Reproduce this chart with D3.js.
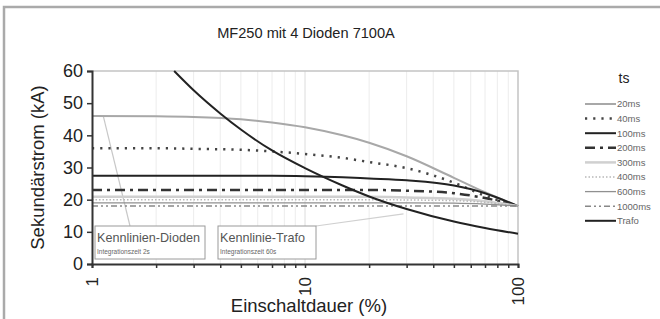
<!DOCTYPE html>
<html>
<head>
<meta charset="utf-8">
<script src="https://cdn.jsdelivr.net/npm/d3@7"></script>
<style>
  body { margin: 0; background: #fff; }
  text { font-family: "Liberation Sans", Arial, sans-serif; }
</style>
</head>
<body>
<div id="chart"></div>
<script>
// Einschaltdauer (%) sample points
const dutyCycle = [1, 2, 3, 5, 7, 10, 15, 20, 30, 50, 70, 100];
const ms20 = [46, 45.9, 45.7, 45, 44, 42.5, 40, 37.7, 33.5, 26.8, 22.3, 18];
const ms40 = [36, 36, 35.8, 35.5, 35, 34.2, 33, 31.7, 29.8, 25.3, 21.2, 18];
const ms100 = [27.4, 27.4, 27.4, 27.4, 27.4, 27.3, 27, 26.6, 26, 24.4, 22, 18];
const ms200 = [23, 23, 23, 23, 23, 23, 23, 23, 22.8, 22, 20.5, 18];
const ms300 = [20.9, 20.9, 20.9, 20.9, 20.9, 20.9, 20.9, 20.9, 20.7, 20.3, 19.5, 18];
const ms400 = [20, 20, 20, 20, 20, 20, 20, 20, 19.9, 19.7, 19.2, 18];
const ms600 = [19, 19, 19, 19, 19, 19, 19, 19, 19, 18.9, 18.6, 18];
const ms1000 = [18, 18, 18, 18, 18, 18, 18, 18, 18, 18, 18, 18];
const trafoDuty = [2.43, 3, 4, 5, 7, 10, 15, 20, 30, 50, 70, 100];
const trafo = [60, 54, 46.8, 41.8, 35.3, 29.8, 24.4, 21, 17.1, 13.2, 11.2, 9.4];

const yTicks = [0, 10, 20, 30, 40, 50, 60];
const xLabels = [1, 10, 100];

const series = [
  { name: "20ms", x: dutyCycle, y: ms20, color: "#a8a8a8", width: 2, dash: null },
  { name: "40ms", x: dutyCycle, y: ms40, color: "#444", width: 2.5, dash: "2.2,6" },
  { name: "100ms", x: dutyCycle, y: ms100, color: "#222", width: 2, dash: null },
  { name: "200ms", x: dutyCycle, y: ms200, color: "#333", width: 2.5, dash: "10,5,3,5" },
  { name: "300ms", x: dutyCycle, y: ms300, color: "#d0d0d0", width: 2.5, dash: null },
  { name: "400ms", x: dutyCycle, y: ms400, color: "#b8b8b8", width: 1.5, dash: "1.5,2" },
  { name: "600ms", x: dutyCycle, y: ms600, color: "#909090", width: 1.3, dash: null },
  { name: "1000ms", x: dutyCycle, y: ms1000, color: "#888", width: 1.5, dash: "6,3,2,3,2,3" },
  { name: "Trafo", x: trafoDuty, y: trafo, color: "#222", width: 2, dash: null }
];

const width = 660, height = 319;
const margin = { left: 92, right: 142, top: 71, bottom: 55 };

const svg = d3.select("#chart").append("svg")
  .attr("width", width).attr("height", height);

// outer frame
svg.append("rect")
  .attr("x", 4).attr("y", 7).attr("width", 700).attr("height", 400)
  .attr("fill", "none").attr("stroke", "#aaa").attr("stroke-width", 2.5);

svg.append("text")
  .attr("x", 306).attr("y", 38)
  .attr("text-anchor", "middle")
  .attr("font-size", 14.6).attr("fill", "#222")
  .text("MF250 mit 4 Dioden 7100A");

const x = d3.scaleLog().domain([1, 100]).range([margin.left, width - margin.right]);
const y = d3.scaleLinear().domain([0, 60]).range([height - margin.bottom, margin.top]);

// vertical grid
const gridTicks = x.ticks().filter(d => d > 1 && d < 100);
svg.append("g").selectAll("line").data(gridTicks).join("line")
  .attr("x1", d => x(d)).attr("x2", d => x(d))
  .attr("y1", y(60)).attr("y2", y(0))
  .attr("stroke", d => d === 10 ? "#dcdcdc" : "#ececec")
  .attr("stroke-width", 1);

// plot frame top and right
svg.append("path")
  .attr("d", `M${x(1)},${y(60)}H${x(100)}V${y(0)}`)
  .attr("fill", "none").attr("stroke", "#c4c4c4").attr("stroke-width", 1.5);

// leader lines of annotations
svg.append("line")
  .attr("x1", x(1.13)).attr("y1", y(ms20[0]))
  .attr("x2", 130).attr("y2", 226)
  .attr("stroke", "#c8c8c8").attr("stroke-width", 1.2);
svg.append("line")
  .attr("x1", 316).attr("y1", 226)
  .attr("x2", x(29)).attr("y2", y(15.6))
  .attr("stroke", "#d0d0d0").attr("stroke-width", 1.2);

// series
const line = d3.line()
  .x(d => x(d[0])).y(d => y(d[1]))
  .curve(d3.curveMonotoneX);

svg.append("g").selectAll("path").data(series).join("path")
  .attr("d", s => line(s.x.map((v, i) => [v, s.y[i]])))
  .attr("fill", "none")
  .attr("stroke", s => s.color)
  .attr("stroke-width", s => s.width)
  .attr("stroke-dasharray", s => s.dash);

// annotation boxes
const notes = [
  { x0: 95, x1: 205, title: "Kennlinien-Dioden", sub: "Integrationszeit 2s" },
  { x0: 218, x1: 316, title: "Kennlinie-Trafo", sub: "Integrationszeit 60s" }
];
const note = svg.append("g").selectAll("g").data(notes).join("g");
note.append("rect")
  .attr("x", d => d.x0).attr("y", 226)
  .attr("width", d => d.x1 - d.x0).attr("height", 33)
  .attr("fill", "#fff").attr("stroke", "#9a9a9a").attr("stroke-width", 1);
note.append("text")
  .attr("x", d => d.x0 + 2).attr("y", 242)
  .attr("font-size", 12.6).attr("fill", "#555")
  .text(d => d.title);
note.append("text")
  .attr("x", d => d.x0 + 2).attr("y", 254)
  .attr("font-size", 6.5).attr("fill", "#666")
  .text(d => d.sub);

// axes
const yAxis = svg.append("g")
  .attr("transform", `translate(${margin.left},0)`)
  .call(d3.axisLeft(y).tickValues(yTicks).tickSize(5).tickPadding(4));
yAxis.select(".domain").attr("stroke", "#333").attr("stroke-width", 2);
yAxis.selectAll(".tick line").attr("stroke", "#333").attr("stroke-width", 1.5);
yAxis.selectAll("text").attr("font-size", 18).attr("fill", "#222")
  .attr("font-family", "Liberation Sans, Arial, sans-serif");

const xAxis = svg.append("g")
  .attr("transform", `translate(0,${y(0)})`)
  .call(d3.axisBottom(x).tickSize(4).tickFormat(""));
xAxis.select(".domain").attr("stroke", "#333").attr("stroke-width", 2);
xAxis.selectAll(".tick line").attr("stroke", "#333").attr("stroke-width", 1.5);

svg.append("g").selectAll("text").data(xLabels).join("text")
  .attr("transform", d => `translate(${x(d)},${y(0) + 13}) rotate(-90)`)
  .attr("text-anchor", "end")
  .attr("dy", "0.35em")
  .attr("font-size", 17).attr("fill", "#222")
  .text(d => d);

svg.append("text")
  .attr("transform", `translate(44,${(y(0) + y(60)) / 2}) rotate(-90)`)
  .attr("text-anchor", "middle")
  .attr("font-size", 18.5).attr("fill", "#222")
  .text("Sekundärstrom (kA)");

svg.append("text")
  .attr("x", 309).attr("y", 312)
  .attr("text-anchor", "middle")
  .attr("font-size", 18.5).attr("fill", "#222")
  .text("Einschaltdauer (%)");

// legend
svg.append("text")
  .attr("x", 624).attr("y", 83)
  .attr("text-anchor", "middle")
  .attr("font-size", 14).attr("fill", "#222")
  .text("ts");

const legend = svg.append("g").selectAll("g").data(series).join("g")
  .attr("transform", (d, i) => `translate(585,${104 + i * 14.6})`);
legend.append("line")
  .attr("x1", 0).attr("x2", 31)
  .attr("stroke", s => s.color)
  .attr("stroke-width", s => s.width)
  .attr("stroke-dasharray", s => s.dash);
legend.append("text")
  .attr("x", 32).attr("dy", "0.35em")
  .attr("font-size", 9.5).attr("fill", "#666")
  .text(s => s.name);
</script>
</body>
</html>
